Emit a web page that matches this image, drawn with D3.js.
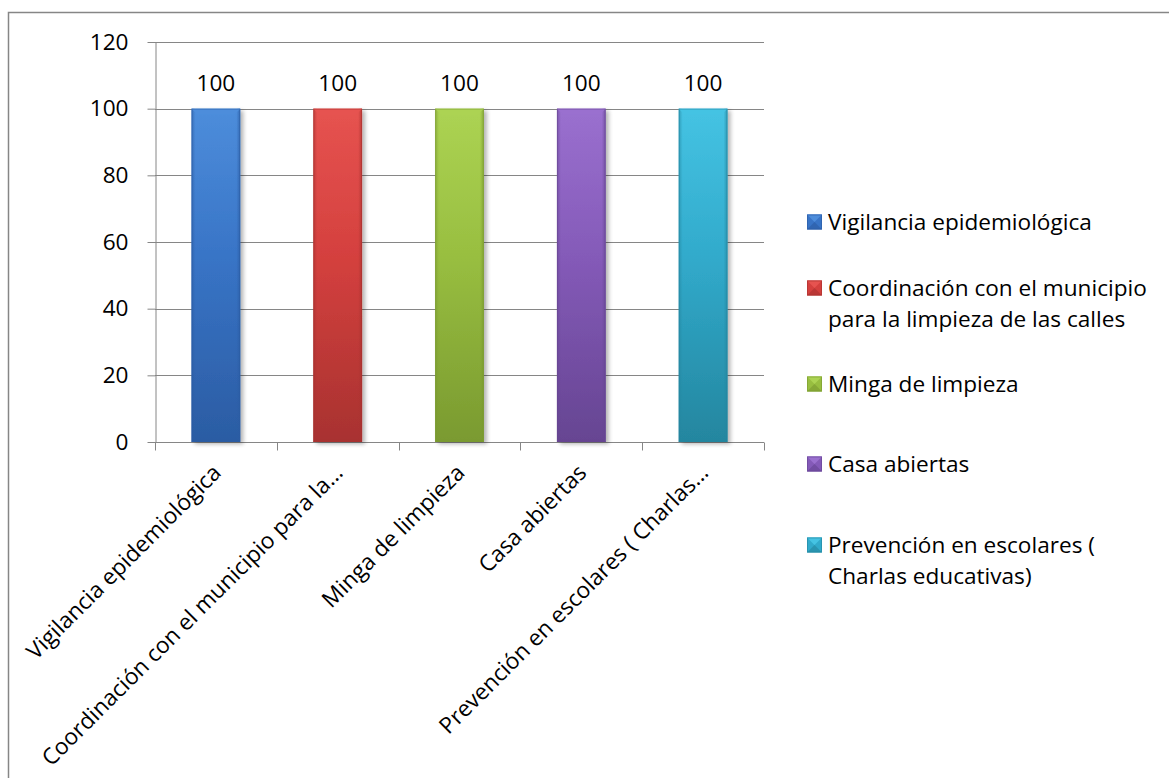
<!DOCTYPE html>
<html>
<head>
<meta charset="utf-8">
<script src="https://cdn.jsdelivr.net/npm/d3@7"></script>
<style>
  html, body { margin: 0; padding: 0; background: #fff; }
  svg { display: block; }
  text { font-family: "Open Sans", Lato, sans-serif; fill: #000; }
</style>
</head>
<body>
<svg id="chart" width="1169" height="778"></svg>
<script>
// Actividades realizadas (porcentaje de cumplimiento)
const categories = [
  "Vigilancia epidemiológica",
  "Coordinación con el municipio para la limpieza de las calles",
  "Minga de limpieza",
  "Casa abiertas",
  "Prevención en escolares ( Charlas educativas)"
];
const axisLabels = [
  "Vigilancia epidemiológica",
  "Coordinación con el municipio para la…",
  "Minga de limpieza",
  "Casa abiertas",
  "Prevención en escolares ( Charlas…"
];
const legendLines = [
  ["Vigilancia epidemiológica"],
  ["Coordinación con el municipio", "para la limpieza de las calles"],
  ["Minga de limpieza"],
  ["Casa abiertas"],
  ["Prevención en escolares (", "Charlas educativas)"]
];
const values = [100, 100, 100, 100, 100];
const yTicks = [0, 20, 40, 60, 80, 100, 120];

// light, base, dark shades for each series
const palette = [
  { light: "#4d8ddb", base: "#3874c6", dark: "#2b5ca3" },
  { light: "#e65350", base: "#d4403e", dark: "#a83230" },
  { light: "#acd353", base: "#98be40", dark: "#7a9a30" },
  { light: "#9a70cf", base: "#845ab8", dark: "#664592" },
  { light: "#45c3e3", base: "#31aacb", dark: "#24869f" }
];

const FONT = "22.6px";
const svg = d3.select("#chart");
const defs = svg.append("defs");

palette.forEach((c, i) => {
  const g = defs.append("linearGradient").attr("id", "bar" + i)
    .attr("x1", 0).attr("y1", 0).attr("x2", 0).attr("y2", 1);
  g.append("stop").attr("offset", "0%").attr("stop-color", c.light);
  g.append("stop").attr("offset", "45%").attr("stop-color", c.base);
  g.append("stop").attr("offset", "100%").attr("stop-color", c.dark);
  const h = defs.append("linearGradient").attr("id", "side" + i)
    .attr("x1", 0).attr("y1", 0).attr("x2", 1).attr("y2", 0);
  h.append("stop").attr("offset", "0%").attr("stop-color", c.dark).attr("stop-opacity", 0.6);
  h.append("stop").attr("offset", "8%").attr("stop-color", c.dark).attr("stop-opacity", 0);
  h.append("stop").attr("offset", "92%").attr("stop-color", c.dark).attr("stop-opacity", 0);
  h.append("stop").attr("offset", "100%").attr("stop-color", c.dark).attr("stop-opacity", 0.7);
});
const shadow = defs.append("filter").attr("id", "shadow")
  .attr("x", "-20%").attr("y", "-5%").attr("width", "150%").attr("height", "115%");
shadow.append("feGaussianBlur").attr("in", "SourceAlpha").attr("stdDeviation", 2);
shadow.append("feOffset").attr("dx", 3).attr("dy", 2).attr("result", "b");
shadow.append("feComponentTransfer").append("feFuncA").attr("type", "linear").attr("slope", 0.3);
const fm = shadow.append("feMerge");
fm.append("feMergeNode");
fm.append("feMergeNode").attr("in", "SourceGraphic");

// outer chart frame
svg.append("rect").attr("x", 8.5).attr("y", 12.5).attr("width", 1180).attr("height", 800)
  .attr("fill", "none").attr("stroke", "#868686").attr("stroke-width", 1.5);

const plot = { left: 155, right: 764, top: 42, bottom: 442 };

const x = d3.scaleBand().domain(categories).range([plot.left, plot.right]).paddingInner(0).paddingOuter(0);
const y = d3.scaleLinear().domain([0, 120]).range([plot.bottom, plot.top]);

// gridlines
svg.append("g").selectAll("line").data(yTicks.filter(d => d > 0)).join("line")
  .attr("x1", plot.left).attr("x2", plot.right)
  .attr("y1", d => Math.round(y(d)) + 0.5).attr("y2", d => Math.round(y(d)) + 0.5)
  .attr("stroke", "#868686").attr("stroke-width", 1);

// y axis
const yAxis = svg.append("g").attr("transform", `translate(${plot.left + 0.5},0)`)
  .call(d3.axisLeft(y).tickValues(yTicks).tickSize(8).tickPadding(19).tickSizeOuter(0));
yAxis.select(".domain").attr("stroke", "#868686");
yAxis.selectAll(".tick line").attr("stroke", "#868686");
yAxis.selectAll(".tick text").style("font-size", FONT).attr("font-family", null).attr("fill", "#000");

// x axis: ticks at category boundaries
const xg = svg.append("g").attr("transform", `translate(0,${plot.bottom + 0.5})`);
xg.append("line").attr("x1", plot.left).attr("x2", plot.right).attr("stroke", "#868686");
const boundaries = categories.map(c => x(c)).concat([plot.right]);
xg.selectAll("line.tk").data(boundaries).join("line").attr("class", "tk")
  .attr("x1", d => Math.round(d) + 0.5).attr("x2", d => Math.round(d) + 0.5)
  .attr("y1", 0).attr("y2", 8).attr("stroke", "#868686");

xg.selectAll("text.xl").data(categories).join("text").attr("class", "xl")
  .attr("transform", d => `translate(${x(d) + x.bandwidth() / 2 + 1},${26}) rotate(-45)`)
  .attr("text-anchor", "end").attr("dy", "0.35em")
  .style("font-size", FONT)
  .text((d, i) => axisLabels[i]);

// bars
const barW = x.bandwidth() * 0.4;
const bars = svg.append("g").selectAll("g.bar").data(categories).join("g").attr("class", "bar");
bars.each(function (d, i) {
  const g = d3.select(this);
  const x0 = x(d) + (x.bandwidth() - barW) / 2;
  const y0 = y(values[i]);
  const h = y(0) - y0;
  const c = palette[i];
  g.append("rect").attr("x", x0).attr("y", y0).attr("width", barW).attr("height", h)
    .attr("fill", `url(#bar${i})`).attr("filter", "url(#shadow)");
  g.append("rect").attr("x", x0).attr("y", y0).attr("width", barW).attr("height", h)
    .attr("fill", `url(#side${i})`);
  // bevelled top and bottom edges
  const bv = 6;
  g.append("path")
    .attr("d", `M${x0},${y0} L${x0 + barW},${y0} L${x0 + barW - bv},${y0 + bv} L${x0 + bv},${y0 + bv} Z`)
    .attr("fill", c.light).attr("opacity", 0.95);
  g.append("path")
    .attr("d", `M${x0},${y0 + h} L${x0 + barW},${y0 + h} L${x0 + barW - 3},${y0 + h - 3} L${x0 + 3},${y0 + h - 3} Z`)
    .attr("fill", c.dark).attr("opacity", 0.7);
  g.append("rect").attr("x", x0 + 0.5).attr("y", y0 + 0.5).attr("width", barW - 1).attr("height", h - 1)
    .attr("fill", "none").attr("stroke", c.dark).attr("stroke-opacity", 0.5);
});

// value labels
svg.append("g").selectAll("text").data(categories).join("text")
  .attr("x", d => x(d) + x.bandwidth() / 2)
  .attr("y", (d, i) => y(values[i]) - 18)
  .attr("text-anchor", "middle")
  .style("font-size", FONT)
  .text((d, i) => values[i]);

// legend
const legendY = [222, 288, 384, 464, 545];
const leg = svg.append("g").selectAll("g").data(categories).join("g")
  .attr("transform", (d, i) => `translate(807,${legendY[i]})`);
leg.each(function (d, i) {
  const g = d3.select(this);
  const c = palette[i];
  const s = 15;
  g.append("rect").attr("x", 0).attr("y", -s / 2).attr("width", s).attr("height", s)
    .attr("fill", c.base);
  g.append("path").attr("d", `M0,${-s / 2} L${s},${-s / 2} L${s / 2},${0} Z`).attr("fill", c.light);
  g.append("path").attr("d", `M0,${s / 2} L${s},${s / 2} L${s / 2},${0} Z`).attr("fill", c.dark).attr("opacity", 0.6);
  g.append("rect").attr("x", 0.5).attr("y", -s / 2 + 0.5).attr("width", s - 1).attr("height", s - 1)
    .attr("fill", "none").attr("stroke", c.dark).attr("stroke-opacity", 0.6);
  g.selectAll("text").data(legendLines[i]).join("text")
    .attr("x", 21).attr("y", (t, j) => j * 31).attr("dy", "0.35em")
    .style("font-size", FONT).text(t => t);
});
</script>
</body>
</html>
